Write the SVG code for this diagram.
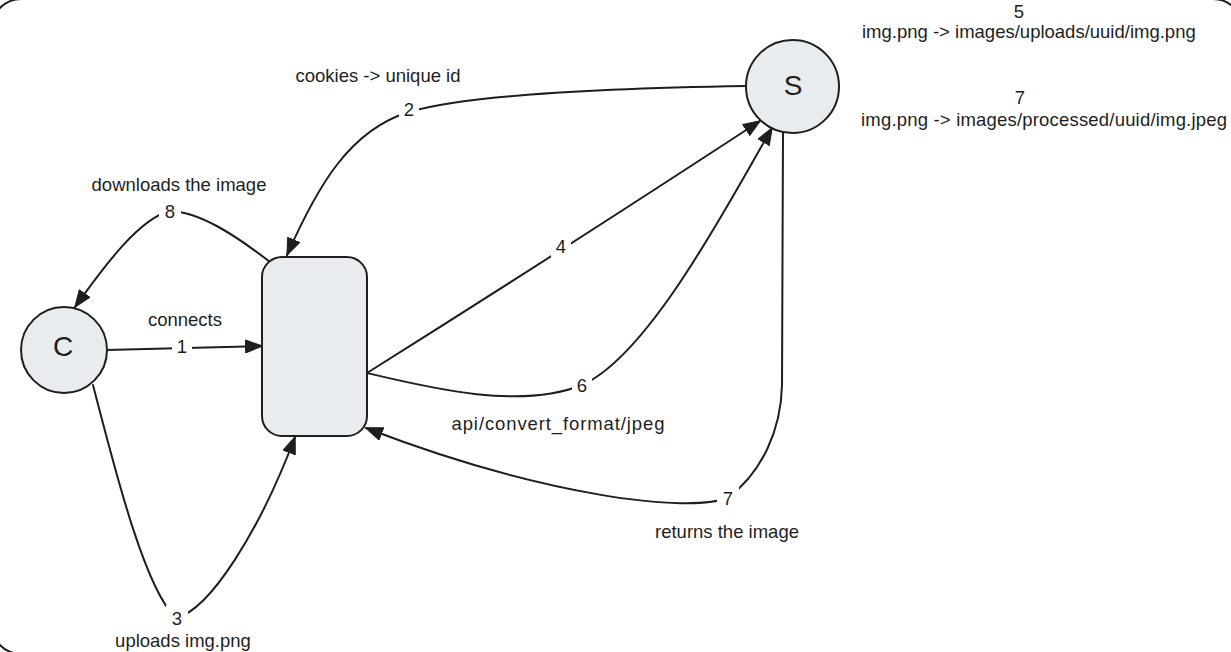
<svg xmlns="http://www.w3.org/2000/svg" width="1231" height="652" viewBox="0 0 1231 652">
  <defs>
    <style>
      .frame { fill: none; stroke: #1e1e1e; stroke-width: 2; }
      .node { fill: #e9ecef; stroke: #1e1e1e; stroke-width: 2; }
      .edge { fill: none; stroke: #1e1e1e; stroke-width: 2; stroke-linecap: round; marker-end: url(#head); }
      .edge-plain { fill: none; stroke: #1e1e1e; stroke-width: 2; stroke-linecap: round; }
      .gap { fill: #ffffff; }
      .t { font-family: "Liberation Sans", Arial, sans-serif; font-size: 18.5px; fill: #1e1e1e; }
      .c { text-anchor: middle; }
      .big { font-family: "Liberation Sans", Arial, sans-serif; font-size: 28px; fill: #1e1e1e; text-anchor: middle; }
    </style>
    <marker id="head" viewBox="0 0 18 14" refX="17" refY="7" markerWidth="18" markerHeight="14" markerUnits="userSpaceOnUse" orient="auto">
      <path d="M0.5,0.5 L17.5,7 L0.5,13.5 Z" fill="#1e1e1e" stroke="#1e1e1e" stroke-width="1" stroke-linejoin="round"/>
    </marker>
  </defs>

  <rect width="1231" height="652" fill="#ffffff"/>

  <!-- outer frame, mostly outside the canvas -->
  <path class="frame" d="M-8.6,29 A30,30 0 0 1 21.4,-1 L1213,-1 A30,30 0 0 1 1243,29 L1243,660 L21.4,654 A30,30 0 0 1 -8.6,624 Z"/>

  <!-- connectors -->
  <g id="connectors">
    <g id="edge-1">
      <path class="edge" d="M106,350 L262,346"/>
      <rect class="gap" x="172" y="334" width="20" height="24"/>
      <text class="t c" x="182" y="352.6">1</text>
    </g>
    <g id="edge-2">
      <path class="edge" d="M746,86 C620,88 470,94 409,112 C350,130 318,185 287,255"/>
      <rect class="gap" x="399" y="97" width="20" height="24"/>
      <text class="t c" x="409" y="115.6">2</text>
    </g>
    <g id="edge-3">
      <path class="edge" d="M93,385 C115,470 145,590 176,618 C210,610 260,530 295,437"/>
      <rect class="gap" x="166" y="605" width="22" height="26"/>
      <text class="t c" x="177" y="624.6">3</text>
    </g>
    <g id="edge-4">
      <path class="edge" d="M367,373 Q555,255 760,121"/>
      <rect class="gap" x="551" y="234" width="20" height="24"/>
      <text class="t c" x="561" y="252.6">4</text>
    </g>
    <g id="edge-6">
      <path class="edge" d="M367,373 C430,388 520,410 582,385 C650,355 730,200 772,128"/>
      <rect class="gap" x="572" y="373" width="20" height="24"/>
      <text class="t c" x="582" y="391.6">6</text>
    </g>
    <g id="edge-7">
      <path class="edge" d="M783,132 L782,385 C781,430 762,472 729,497 C690,515 540,495 366,428"/>
      <rect class="gap" x="717" y="486" width="22" height="24"/>
      <text class="t c" x="728" y="504.6">7</text>
    </g>
    <g id="edge-8">
      <path class="edge" d="M270,262 C235,235 200,212 170,211 C140,218 105,265 75,307"/>
      <rect class="gap" x="159" y="199" width="22" height="24"/>
      <text class="t c" x="170" y="217.6">8</text>
    </g>
  </g>

  <!-- edge captions -->
  <g id="captions">
    <text class="t c" x="378" y="82">cookies -&gt; unique id</text>
    <text class="t c" x="179" y="191">downloads the image</text>
    <text class="t c" x="185" y="326">connects</text>
    <text class="t c" x="183" y="647">uploads img.png</text>
    <text class="t c" x="558" y="430" textLength="213" lengthAdjust="spacing">api/convert_format/jpeg</text>
    <text class="t c" x="727" y="538">returns the image</text>
  </g>

  <!-- client -->
  <g id="node-client">
    <circle class="node" cx="64" cy="350" r="43"/>
    <text class="big" x="63" y="356">C</text>
  </g>

  <!-- middle service box -->
  <g id="node-api">
    <rect class="node" x="262" y="257" width="105" height="179" rx="20" ry="20"/>
  </g>

  <!-- storage -->
  <g id="node-storage">
    <circle class="node" cx="792.5" cy="86.5" r="46.5"/>
    <text class="big" x="793" y="95">S</text>
  </g>

  <!-- storage notes -->
  <g id="notes">
    <text class="t c" x="1019" y="17.6">5</text>
    <text class="t" x="862" y="38">img.png -&gt; images/uploads/uuid/img.png</text>
    <text class="t c" x="1020" y="103.6">7</text>
    <text class="t" x="861" y="126" textLength="366" lengthAdjust="spacing">img.png -&gt; images/processed/uuid/img.jpeg</text>
  </g>
</svg>
